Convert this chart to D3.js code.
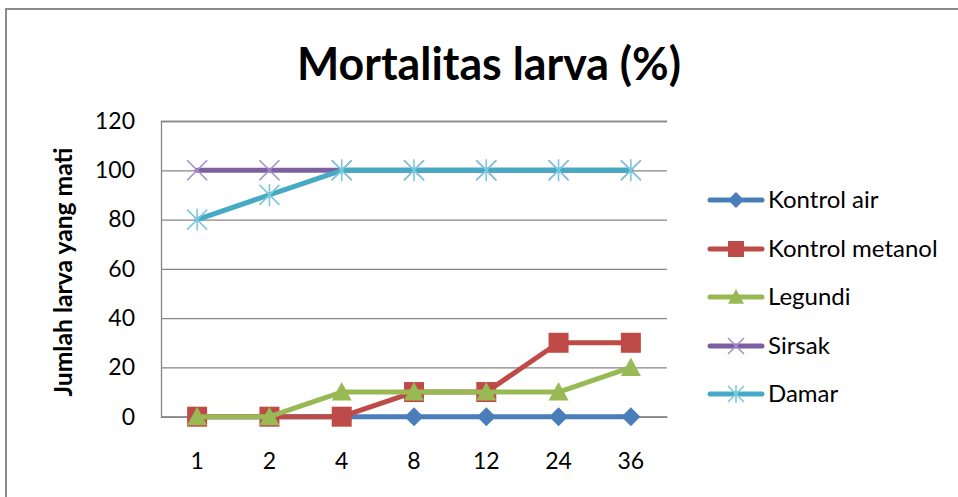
<!DOCTYPE html>
<html>
<head>
<meta charset="utf-8">
<script src="https://cdn.jsdelivr.net/npm/d3@7"></script>
<style>
  html, body { margin: 0; padding: 0; background: #fff; }
  svg { display: block; }
  text { font-family: Lato, "Open Sans", sans-serif; fill: #000; }
</style>
</head>
<body>
<svg id="chart" width="958" height="497"></svg>
<script>
// Jam pengamatan (sumbu X)
const categories = ["1", "2", "4", "8", "12", "24", "36"];
// Nilai mortalitas tiap perlakuan
const kontrolAir     = [0, 0, 0, 0, 0, 0, 0];
const kontrolMetanol = [0, 0, 0, 10, 10, 30, 30];
const legundi        = [0, 0, 10, 10, 10, 10, 20];
const sirsak         = [100, 100, 100, 100, 100, 100, 100];
const damar          = [80, 90, 100, 100, 100, 100, 100];
const yTicks = [0, 20, 40, 60, 80, 100, 120];

const seriesNames = ["Kontrol air", "Kontrol metanol", "Legundi", "Sirsak", "Damar"];
const seriesValues = [kontrolAir, kontrolMetanol, legundi, sirsak, damar];
const seriesLine = ["#4A7EBB", "#BE4B48", "#98B954", "#7D60A0", "#46AAC5"];
const seriesMark = ["#4A7EBB", "#BE4B48", "#98B954", "#A58FC8", "#7CC8DD"];
const seriesShape = ["diamond", "square", "triangle", "cross", "star"];

const svg = d3.select("#chart");

// Bingkai grafik
svg.append("rect")
  .attr("x", 6).attr("y", 9).attr("width", 1000).attr("height", 600)
  .attr("fill", "none").attr("stroke", "#8c8c8c").attr("stroke-width", 2);

const plot = { left: 161, right: 667, top: 121, bottom: 416.7 };

const x = d3.scaleBand().domain(categories).range([plot.left, plot.right]).padding(0);
const y = d3.scaleLinear().domain([0, 120]).range([plot.bottom, plot.top]);
const cx = c => x(c) + x.bandwidth() / 2;

// Garis bantu horizontal + label sumbu Y
const yAxis = d3.axisLeft(y).tickValues(yTicks).tickSize(-(plot.right - plot.left)).tickPadding(26);
const gy = svg.append("g").attr("transform", `translate(${plot.left},0)`).call(yAxis);
gy.select(".domain").attr("stroke", "#868686").attr("stroke-width", 1.3);
gy.selectAll(".tick line").attr("stroke", "#868686").attr("stroke-width", 1.3);
gy.selectAll(".tick text").attr("font-size", 23).attr("font-family", "Lato, sans-serif").attr("fill", "#111");

// Sumbu X
const xAxis = d3.axisBottom(x).tickSize(0).tickPadding(36);
const gx = svg.append("g").attr("transform", `translate(0,${plot.bottom})`).call(xAxis);
gx.select(".domain").attr("stroke", "#868686").attr("stroke-width", 1.3);
gx.selectAll(".tick text").attr("font-size", 23).attr("font-family", "Lato, sans-serif").attr("fill", "#111");

// Judul
svg.append("text")
  .attr("x", 489).attr("y", 80)
  .attr("text-anchor", "middle")
  .attr("font-size", 45).attr("font-weight", "bold")
  .attr("textLength", 384).attr("lengthAdjust", "spacingAndGlyphs")
  .text("Mortalitas larva (%)");

// Judul sumbu Y
svg.append("text")
  .attr("transform", "translate(72,272) rotate(-90)")
  .attr("text-anchor", "middle")
  .attr("font-size", 24).attr("font-weight", "bold")
  .attr("textLength", 249).attr("lengthAdjust", "spacingAndGlyphs")
  .text("Jumlah larva yang mati");

function drawMarker(g, shape, px, py, s, color) {
  const h = s / 2;
  if (shape === "diamond") {
    g.append("path").attr("d", `M${px},${py - h}L${px + h},${py}L${px},${py + h}L${px - h},${py}Z`).attr("fill", color);
  } else if (shape === "square") {
    g.append("rect").attr("x", px - h).attr("y", py - h).attr("width", s).attr("height", s).attr("fill", color);
  } else if (shape === "triangle") {
    g.append("path").attr("d", `M${px},${py - h}L${px + h},${py + h * 0.85}L${px - h},${py + h * 0.85}Z`).attr("fill", color);
  } else if (shape === "cross") {
    g.append("path").attr("d", `M${px - h},${py - h}L${px + h},${py + h}M${px + h},${py - h}L${px - h},${py + h}`)
      .attr("stroke", color).attr("stroke-width", 1.6).attr("fill", "none");
  } else if (shape === "star") {
    g.append("path").attr("d", `M${px - h},${py - h}L${px + h},${py + h}M${px + h},${py - h}L${px - h},${py + h}M${px},${py - h * 1.1}L${px},${py + h * 1.1}`)
      .attr("stroke", color).attr("stroke-width", 1.6).attr("fill", "none");
  }
}

const markSize = [19, 20, 20, 20, 20];
const line = d3.line().x((d, i) => cx(categories[i])).y(d => y(d));

seriesValues.forEach((vals, si) => {
  const g = svg.append("g");
  g.append("path").datum(vals).attr("d", line)
    .attr("fill", "none").attr("stroke", seriesLine[si]).attr("stroke-width", 5)
    .attr("stroke-linejoin", "round").attr("stroke-linecap", "round");
  vals.forEach((v, i) => drawMarker(g, seriesShape[si], cx(categories[i]), y(v), markSize[si], seriesMark[si]));
});

// Legenda
const legendY = [200, 249, 297, 346, 394];
seriesNames.forEach((name, si) => {
  const g = svg.append("g");
  const ly = legendY[si];
  g.append("line").attr("x1", 710).attr("x2", 762).attr("y1", ly).attr("y2", ly)
    .attr("stroke", seriesLine[si]).attr("stroke-width", 5).attr("stroke-linecap", "round");
  drawMarker(g, seriesShape[si], 736, ly, 16, seriesMark[si]);
  g.append("text").attr("x", 768).attr("y", ly).attr("dy", "0.35em")
    .attr("font-size", 24).attr("fill", "#111").text(name);
});
</script>
</body>
</html>
